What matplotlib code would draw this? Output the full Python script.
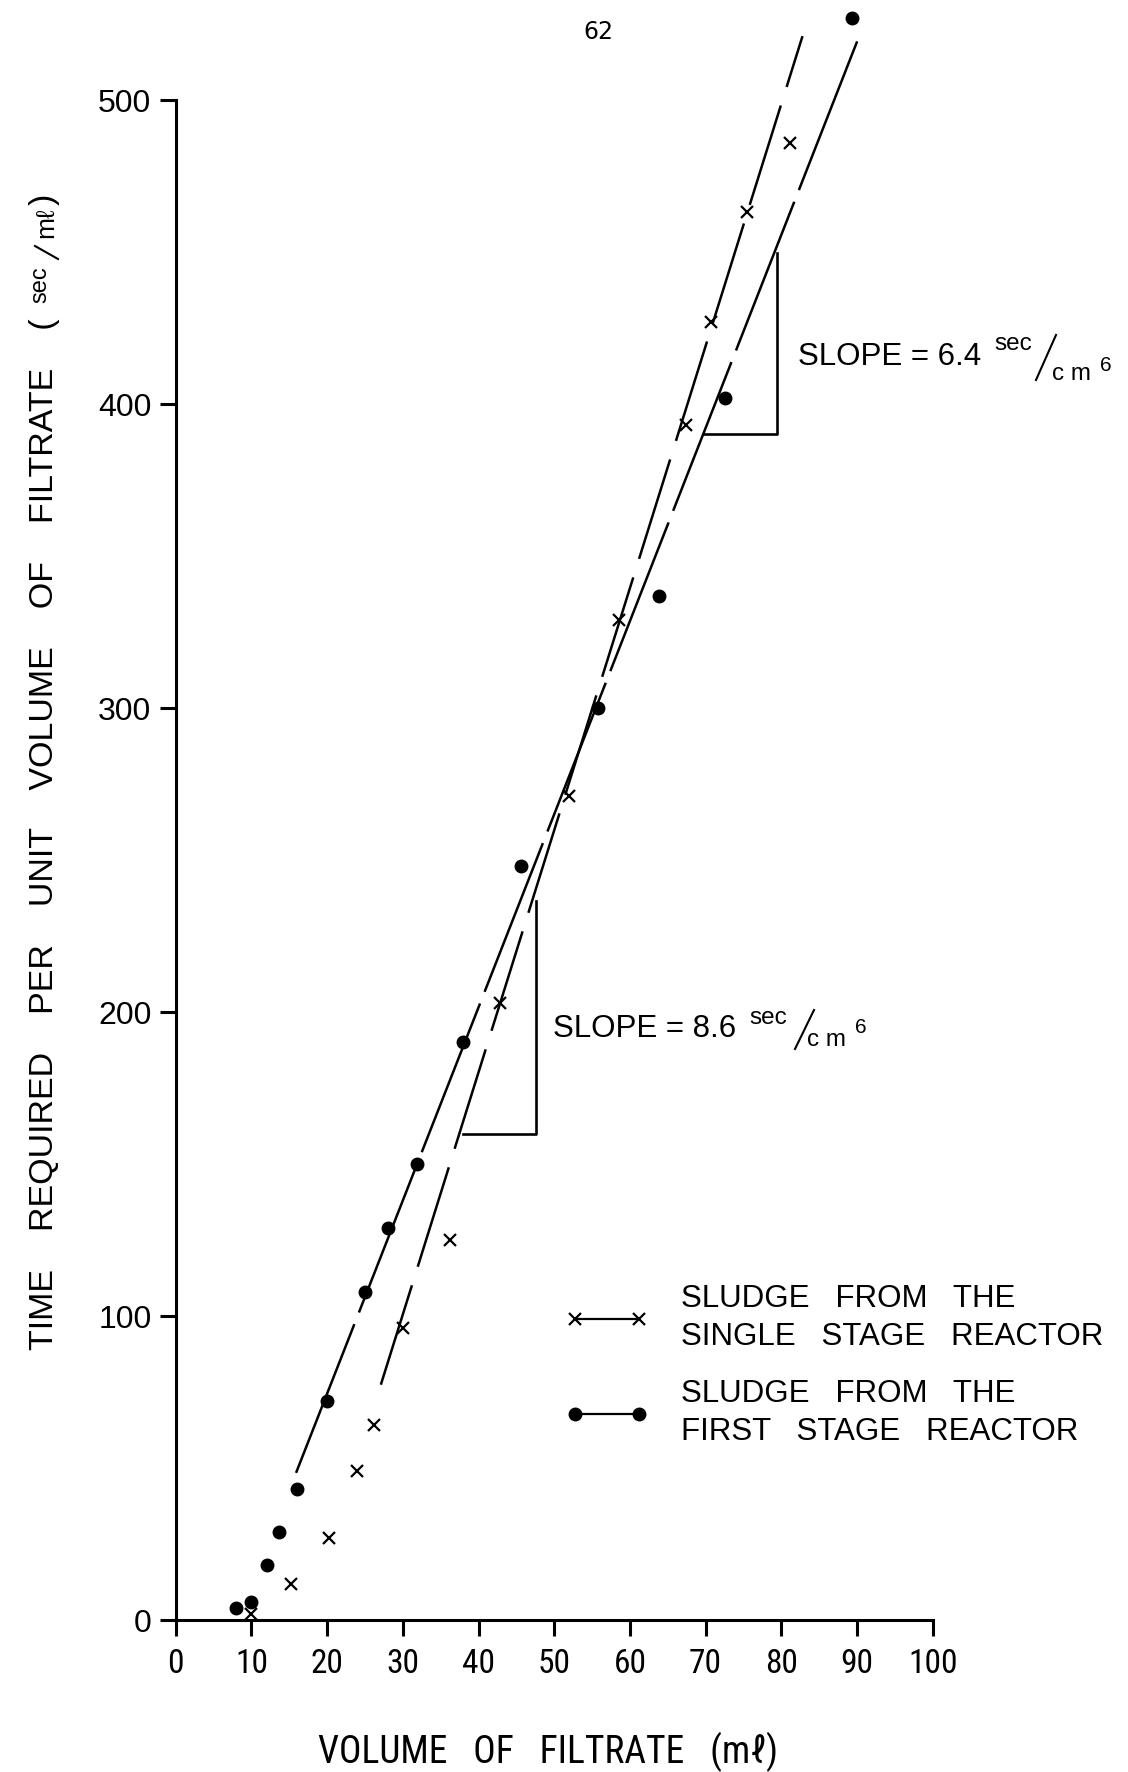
import matplotlib
matplotlib.use('Agg')
import matplotlib.pyplot as plt
from matplotlib import font_manager
from matplotlib.lines import Line2D

# --- Data ---
# sludge from the first stage reactor (dots)
first_x = [8, 10, 12, 13.6, 16, 20, 25, 28, 31.9, 37.9, 45.6, 55.8, 63.8, 72.5, 89.4]
first_y = [4, 6, 18, 29, 43, 72, 108, 129, 150, 190, 248, 300, 337, 402, 527]

# sludge from the single stage reactor (crosses)
single_x = [10, 15.2, 20.2, 24, 26.2, 30, 36.2, 42.9, 51.9, 58.6, 67.4, 70.7, 75.5, 81.2]
single_y = [2, 12, 27, 49, 64, 96, 125, 203, 271, 329, 393, 427, 463, 486]

# fitted straight lines (end points)
first_fit_x = [15.9, 90.4]
first_fit_y = [48.4, 521.7]
single_fit_x = [27.1, 82.8]
single_fit_y = [77.4, 521.0]

# slope triangles
tri_single_x = [38.0, 47.6, 47.6]
tri_single_y = [160, 160, 236.6]
tri_first_x = [69.8, 79.4, 79.4]
tri_first_y = [390, 390, 449.6]

slope_values = ['8.6', '6.4']

x_ticks = list(range(0, 101, 10))
y_ticks = [0, 100, 200, 300, 400, 500]

# --- Style ---
plt.rcParams['font.family'] = ['Liberation Sans', 'DejaVu Sans']
plt.rcParams['lines.scale_dashes'] = False

# a narrow face for the x axis texts, if one is around
ttf = font_manager.fontManager.ttflist
names = {f.name for f in ttf}
narrow_kw = None
if 'Liberation Sans Narrow' in names:
    narrow_kw = dict(family=['Liberation Sans Narrow', 'DejaVu Sans'])
elif 'Roboto Condensed' in names:
    narrow_kw = dict(family=['Roboto Condensed', 'DejaVu Sans'])
elif any(f.name == 'DejaVu Sans' and f.stretch == 'condensed' for f in ttf):
    narrow_kw = dict(family='DejaVu Sans', fontstretch='condensed')

W, H = 1128, 1772
fig = plt.figure(figsize=(W / 100, H / 100), dpi=100)
ax = fig.add_axes([175.7 / W, (H - 1620) / H, 757 / W, 532 * 3.04 / H])
ax.set_xlim(0, 100)
ax.set_ylim(0, 532)


def fx(px):
    return px / W


def fy(py):
    return 1 - py / H


# fitted lines, hand drawn with breaks
ax.plot(first_fit_x, first_fit_y, color='black', lw=1.8, dashes=(115, 9), clip_on=False)
ax.plot(single_fit_x, single_fit_y, color='black', lw=1.8, dashes=(75, 14), clip_on=False)

# data points
ax.plot(first_x, first_y, 'o', color='black', ms=9, clip_on=False)
ax.plot(single_x, single_y, 'x', color='black', ms=8.5, mew=1.6, clip_on=False)

# slope triangles
ax.plot(tri_single_x, tri_single_y, color='black', lw=1.9)
ax.plot(tri_first_x, tri_first_y, color='black', lw=1.9)

# axes: open frame, outward ticks
for s in ['top', 'right']:
    ax.spines[s].set_visible(False)
ax.spines['left'].set_bounds(0, 500)
ax.spines['bottom'].set_bounds(0, 100)
for s in ['left', 'bottom']:
    ax.spines[s].set_linewidth(2.2)
ax.set_xticks(x_ticks)
ax.set_yticks(y_ticks)
ax.tick_params(axis='both', direction='out', length=11.5, width=2.2)
ax.tick_params(axis='y', labelsize=23, pad=6)
if narrow_kw:
    ax.tick_params(axis='x', labelsize=24, pad=9)
    for lab in ax.get_xticklabels():
        lab.set(**narrow_kw)
    fig.text(fx(548), fy(1752), 'VOLUME   OF   FILTRATE   (m\u2113)', ha='center',
             va='center', fontsize=27, **narrow_kw)
else:
    ax.tick_params(axis='x', labelsize=21, pad=10)
    fig.text(fx(548), fy(1752), 'VOLUME   OF   FILTRATE   (m\u2113)', ha='center',
             va='center', fontsize=23)

# y label, rotated, built from pieces for the raised "sec"
ylab = dict(rotation=90, rotation_mode='anchor', va='baseline')
fig.text(fx(53), fy(318), 'TIME    REQUIRED    PER    UNIT    VOLUME    OF    FILTRATE    (',
         ha='right', fontsize=24.5, **ylab)
fig.text(fx(46), fy(303), 'sec', ha='left', fontsize=17, **ylab)
fig.add_artist(Line2D([fx(58), fx(35)], [fy(259), fy(246)], color='black', lw=1.5))
fig.text(fx(53), fy(238), 'm\u2113', ha='left', fontsize=19, **ylab)
fig.text(fx(53), fy(205), ')', ha='left', fontsize=24.5, **ylab)


# slope labels, placed in pixels relative to the start / baseline of "SLOPE"
def slope_label(x0, y0, value, sec_up, slash, cm_dn, six_up):
    fig.text(fx(x0), fy(y0), f'SLOPE = {value}', fontsize=22.5, va='baseline', ha='left')
    fig.text(fx(x0 + 196), fy(y0 - sec_up), 'sec', fontsize=17.5, va='baseline', ha='left')
    (ax0, ay0), (ax1, ay1) = slash
    fig.add_artist(Line2D([fx(x0 + ax0), fx(x0 + ax1)], [fy(y0 - ay0), fy(y0 - ay1)],
                          color='black', lw=1.5))
    fig.text(fx(x0 + 254), fy(y0 + cm_dn), 'c m', fontsize=17.5, va='baseline', ha='left')
    fig.text(fx(x0 + 302), fy(y0 - six_up), '6', fontsize=15, va='baseline', ha='left')


slope_label(553, 1037, slope_values[0], 13, ((242, -12), (261, 27)), 9, 4)
slope_label(798, 365, slope_values[1], 15, ((238, -15), (258, 30)), 15, -6)

# page number
fig.text(fx(598), fy(32), '62', fontsize=17, ha='center', va='center', family='DejaVu Sans')

# legend
handles = [
    Line2D([], [], color='black', lw=1.6, marker='x', ms=8, mew=1.6),
    Line2D([], [], color='black', lw=1.6, marker='o', ms=9),
]
labels = ['SLUDGE   FROM   THE\nSINGLE   STAGE   REACTOR',
          'SLUDGE   FROM   THE\nFIRST   STAGE   REACTOR']
leg = fig.legend(handles, labels, loc='upper left', bbox_to_anchor=(fx(566), fy(1284)),
                 frameon=False, numpoints=2, fontsize=22.5, handlelength=2.65,
                 handletextpad=1.04, labelspacing=0.85, borderpad=0, borderaxespad=0)
for t in leg.get_texts():
    t.set_linespacing(1.36)

fig.savefig('out.png', dpi=100, facecolor='white')
